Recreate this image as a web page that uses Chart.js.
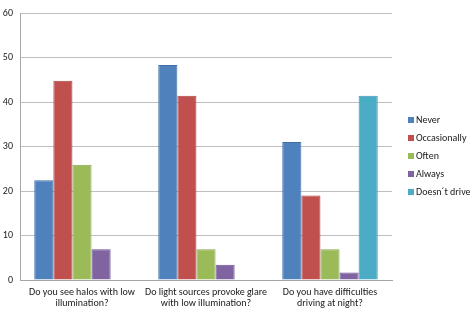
<!DOCTYPE html>
<html><head><meta charset="utf-8">
<script src="https://cdn.jsdelivr.net/npm/chart.js"></script>
<style>html,body{margin:0;padding:0;background:#fff;}#wrap{width:472px;height:312px;position:relative;}</style>
</head><body><div id="wrap"><canvas id="c" width="472" height="312"></canvas></div>
<script>
const categories = [
  ['Do you see halos with low', 'illumination?'],
  ['Do light sources provoke glare', 'with low illumination?'],
  ['Do you have difficulties', 'driving at night?']
];
const seriesNames = ['Never', 'Occasionally', 'Often', 'Always', 'Doesn\u00b4t drive'];
const never = [22.4, 48.3, 31.0];
const occasionally = [44.8, 41.4, 19.0];
const often = [25.9, 6.9, 6.9];
const always = [6.9, 3.4, 1.7];
const doesntDrive = [0, 0, 41.4];
const yTicks = [0, 10, 20, 30, 40, 50, 60];

const colors = ['#4F81BD', '#C0504D', '#9BBB59', '#8064A2', '#4BACC6'];
const borders = ['#3f6fa8', '#a94441', '#87a54b', '#6c5290', '#3a98b2'];
const FONT = 'Carlito, "Liberation Sans Narrow", sans-serif';
const values = [never, occasionally, often, always, doesntDrive];

const legendPlugin = {
  id: 'customLegend',
  afterDraw(chart) {
    const ctx = chart.ctx;
    ctx.save();
    ctx.font = '10px ' + FONT;
    ctx.textBaseline = 'middle';
    chart.data.datasets.forEach((ds, i) => {
      const y = 120 + i * 18;
      ctx.fillStyle = ds.backgroundColor;
      ctx.fillRect(408, y - 3, 6, 6);
      ctx.fillStyle = '#1a1a1a';
      ctx.fillText(ds.label, 416, y);
    });
    ctx.restore();
  }
};

new Chart(document.getElementById('c'), {
  type: 'bar',
  data: {
    labels: categories,
    datasets: seriesNames.map((n, i) => ({
      label: n,
      data: values[i],
      backgroundColor: colors[i],
      borderColor: borders[i],
      borderWidth: 1,
      categoryPercentage: 0.77,
      barPercentage: 1.0
    }))
  },
  options: {
    responsive: false,
    animation: false,
    layout: { padding: { top: 5, right: 80, left: 0, bottom: 0 } },
    plugins: { legend: { display: false }, tooltip: { enabled: false } },
    scales: {
      x: {
        grid: { display: false, drawTicks: false },
        border: { color: '#a6a6a6', width: 1 },
        ticks: { color: '#1a1a1a', font: { family: FONT, size: 10, lineHeight: 1.1 }, padding: 7, maxRotation: 0, autoSkip: false },
        afterFit(s) { s.height = 32; }
      },
      y: {
        min: 0, max: 60,
        afterBuildTicks(s) { s.ticks = yTicks.map(v => ({ value: v })); },
        grid: { color: '#bfbfbf', drawTicks: false },
        border: { color: '#a6a6a6', width: 1 },
        ticks: { color: '#1a1a1a', font: { family: FONT, size: 10 }, padding: 7 },
        afterFit(s) { s.width = 20; }
      }
    }
  },
  plugins: [legendPlugin]
});
</script></body></html>
